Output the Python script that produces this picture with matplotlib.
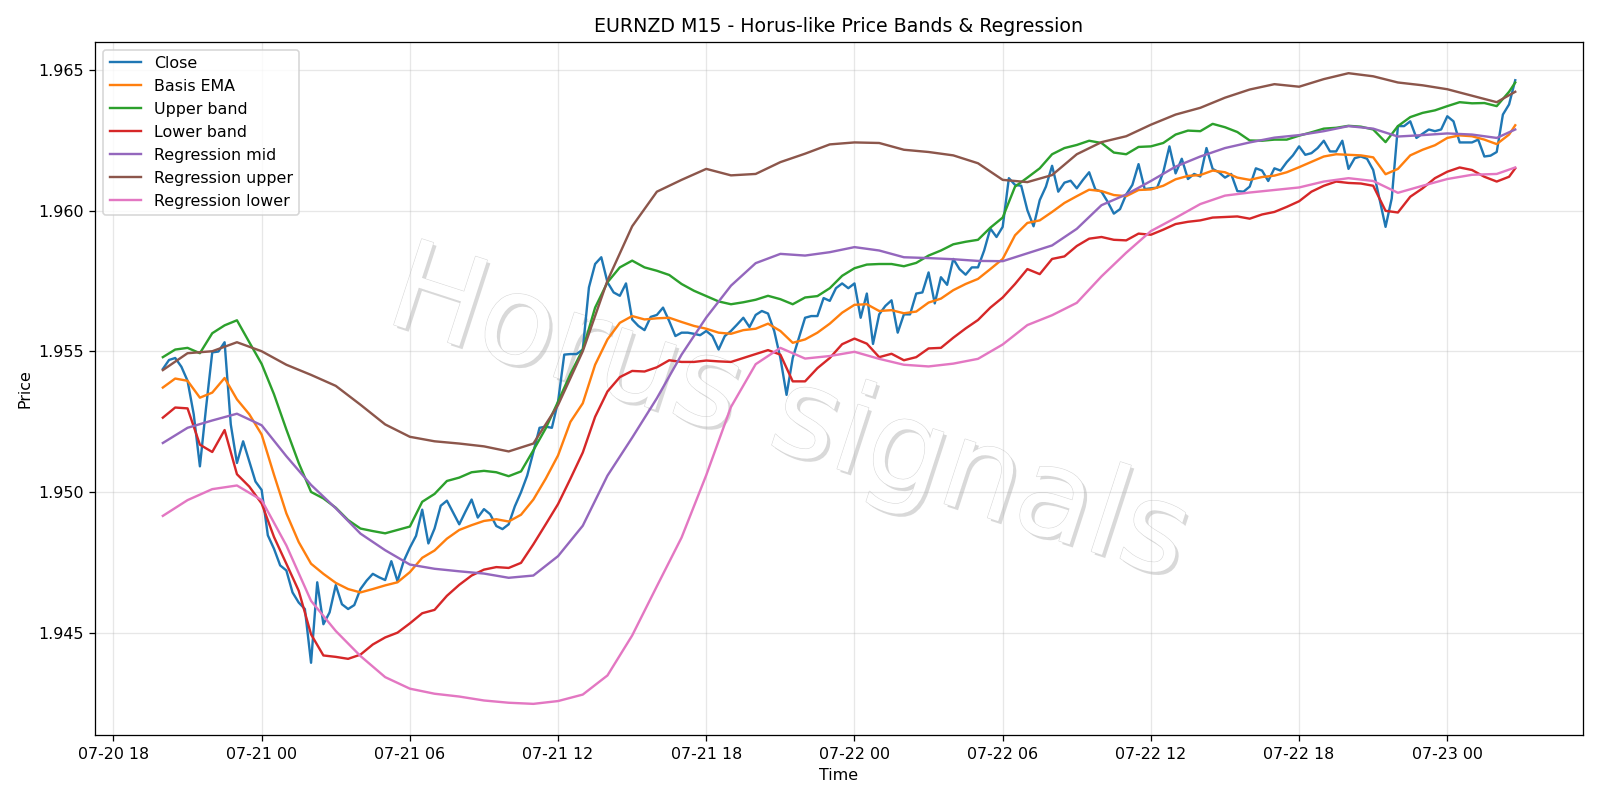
import matplotlib
matplotlib.use("Agg")
import matplotlib.pyplot as plt
import matplotlib.patheffects as pe
import pandas as pd

# M15 closes, 2025-07-20 20:00 -> 2025-07-23 02:45
close = [
    1.95437, 1.95469, 1.95476, 1.95445, 1.95395, 1.95276, 1.95091, 1.95300, 1.95496, 1.95499,
    1.95532, 1.95240, 1.95103, 1.95180, 1.95109, 1.95037, 1.95007, 1.94846, 1.94798, 1.94739,
    1.94721, 1.94643, 1.94607, 1.94584, 1.94393, 1.94679, 1.94530, 1.94572, 1.94669, 1.94601,
    1.94584, 1.94598, 1.94655, 1.94685, 1.94709, 1.94697, 1.94687, 1.94754, 1.94683, 1.94754,
    1.94802, 1.94844, 1.94937, 1.94817, 1.94870, 1.94951, 1.94969, 1.94927, 1.94885, 1.94930,
    1.94973, 1.94909, 1.94939, 1.94921, 1.94879, 1.94868, 1.94885, 1.94949, 1.94999, 1.95058,
    1.95142, 1.95228, 1.95232, 1.95228, 1.95321, 1.95488, 1.95490, 1.95490, 1.95506, 1.95727,
    1.95810, 1.95834, 1.95745, 1.95709, 1.95697, 1.95741, 1.95613, 1.95590, 1.95575, 1.95622,
    1.95629, 1.95655, 1.95607, 1.95554, 1.95566, 1.95566, 1.95562, 1.95557, 1.95572, 1.95554,
    1.95506, 1.95554, 1.95572, 1.95595, 1.95619, 1.95586, 1.95629, 1.95643, 1.95634, 1.95572,
    1.95476, 1.95345, 1.95476, 1.95548, 1.95619, 1.95625, 1.95625, 1.95689, 1.95679, 1.95724,
    1.95741, 1.95724, 1.95741, 1.95619, 1.95705, 1.95526, 1.95631, 1.95661, 1.95681, 1.95566,
    1.95631, 1.95631, 1.95705, 1.95709, 1.95780, 1.95670, 1.95763, 1.95736, 1.95828, 1.95792,
    1.95772, 1.95798, 1.95798, 1.95858, 1.95936, 1.95906, 1.95942, 1.96115, 1.96091, 1.96088,
    1.96001, 1.95944, 1.96037, 1.96085, 1.96159, 1.96067, 1.96099, 1.96106, 1.96079, 1.96109,
    1.96136, 1.96075, 1.96067, 1.96031, 1.95989, 1.96005, 1.96057, 1.96091, 1.96165, 1.96076,
    1.96079, 1.96081, 1.96136, 1.96228, 1.96132, 1.96184, 1.96112, 1.96130, 1.96121, 1.96222,
    1.96148, 1.96136, 1.96117, 1.96130, 1.96069, 1.96067, 1.96085, 1.96150, 1.96142, 1.96105,
    1.96150, 1.96142, 1.96172, 1.96196, 1.96228, 1.96198, 1.96204, 1.96222, 1.96248, 1.96210,
    1.96210, 1.96248, 1.96148, 1.96186, 1.96192, 1.96184, 1.96144, 1.96043, 1.95942, 1.96043,
    1.96300, 1.96300, 1.96317, 1.96258, 1.96273, 1.96288, 1.96282, 1.96288, 1.96335, 1.96317,
    1.96242, 1.96242, 1.96242, 1.96252, 1.96192, 1.96195, 1.96208, 1.96341, 1.96377, 1.96463,
]

# bands read every 30 min (plus the last bar)
basis_ema = [
    1.95371, 1.95403, 1.95395, 1.95335, 1.95353, 1.95405, 1.95329, 1.95276, 1.95204, 1.95061,
    1.94924, 1.94822, 1.94745, 1.94709, 1.94677, 1.94655, 1.94643, 1.94655, 1.94668, 1.94679,
    1.94715, 1.94766, 1.94792, 1.94834, 1.94865, 1.94882, 1.94897, 1.94903, 1.94895, 1.94919,
    1.94973, 1.95047, 1.95130, 1.95249, 1.95315, 1.95452, 1.95542, 1.95601, 1.95625, 1.95613,
    1.95617, 1.95619, 1.95604, 1.95590, 1.95580, 1.95566, 1.95562, 1.95575, 1.95580, 1.95598,
    1.95572, 1.95530, 1.95542, 1.95566, 1.95598, 1.95637, 1.95665, 1.95667, 1.95643, 1.95646,
    1.95635, 1.95641, 1.95673, 1.95687, 1.95717, 1.95739, 1.95757, 1.95792, 1.95828, 1.95912,
    1.95956, 1.95965, 1.95995, 1.96027, 1.96051, 1.96074, 1.96069, 1.96055, 1.96051, 1.96073,
    1.96075, 1.96088, 1.96111, 1.96123, 1.96126, 1.96142, 1.96136, 1.96117, 1.96109, 1.96119,
    1.96124, 1.96136, 1.96154, 1.96173, 1.96192, 1.96200, 1.96198, 1.96196, 1.96189, 1.96129,
    1.96148, 1.96196, 1.96216, 1.96232, 1.96258, 1.96267, 1.96264, 1.96252, 1.96236, 1.96270,
    1.96303,
]
upper_band = [
    1.95479, 1.95506, 1.95512, 1.95493, 1.95564, 1.95592, 1.95610, 1.95532, 1.95455, 1.95347,
    1.95222, 1.95103, 1.95000, 1.94977, 1.94944, 1.94900, 1.94870, 1.94861, 1.94853, 1.94865,
    1.94877, 1.94965, 1.94993, 1.95039, 1.95051, 1.95070, 1.95075, 1.95070, 1.95056, 1.95073,
    1.95148, 1.95226, 1.95321, 1.95419, 1.95506, 1.95655, 1.95745, 1.95798, 1.95822, 1.95798,
    1.95786, 1.95771, 1.95739, 1.95715, 1.95696, 1.95677, 1.95667, 1.95674, 1.95683, 1.95697,
    1.95685, 1.95667, 1.95691, 1.95696, 1.95724, 1.95768, 1.95795, 1.95808, 1.95810, 1.95810,
    1.95802, 1.95814, 1.95840, 1.95858, 1.95880, 1.95889, 1.95896, 1.95939, 1.95975, 1.96085,
    1.96117, 1.96150, 1.96200, 1.96222, 1.96233, 1.96248, 1.96240, 1.96206, 1.96200, 1.96226,
    1.96228, 1.96240, 1.96270, 1.96284, 1.96282, 1.96308, 1.96296, 1.96279, 1.96249, 1.96248,
    1.96252, 1.96252, 1.96266, 1.96278, 1.96291, 1.96294, 1.96301, 1.96298, 1.96288, 1.96243,
    1.96300, 1.96332, 1.96347, 1.96356, 1.96371, 1.96385, 1.96381, 1.96382, 1.96371, 1.96422,
    1.96455,
]
lower_band = [
    1.95264, 1.95300, 1.95297, 1.95168, 1.95142, 1.95220, 1.95063, 1.95019, 1.94959, 1.94840,
    1.94745, 1.94649, 1.94494, 1.94419, 1.94414, 1.94407, 1.94422, 1.94458, 1.94483, 1.94500,
    1.94533, 1.94569, 1.94581, 1.94631, 1.94670, 1.94703, 1.94724, 1.94733, 1.94730, 1.94748,
    1.94814, 1.94885, 1.94957, 1.95047, 1.95140, 1.95267, 1.95357, 1.95408, 1.95430, 1.95428,
    1.95443, 1.95468, 1.95462, 1.95462, 1.95467, 1.95464, 1.95462, 1.95476, 1.95490, 1.95504,
    1.95488, 1.95393, 1.95393, 1.95440, 1.95476, 1.95525, 1.95545, 1.95527, 1.95479, 1.95491,
    1.95468, 1.95479, 1.95510, 1.95512, 1.95548, 1.95581, 1.95611, 1.95655, 1.95691, 1.95739,
    1.95792, 1.95774, 1.95828, 1.95837, 1.95874, 1.95900, 1.95906, 1.95896, 1.95894, 1.95918,
    1.95914, 1.95932, 1.95952, 1.95960, 1.95965, 1.95975, 1.95977, 1.95979, 1.95971, 1.95986,
    1.95995, 1.96013, 1.96033, 1.96067, 1.96088, 1.96103, 1.96098, 1.96096, 1.96088, 1.95999,
    1.95993, 1.96049, 1.96079, 1.96115, 1.96138, 1.96153, 1.96144, 1.96120, 1.96103, 1.96120,
    1.96150,
]

# regression channel read every hour (plus the last bar)
reg_mid = [
    1.95174, 1.95228, 1.95254, 1.95278, 1.95237, 1.95127, 1.95025, 1.94942, 1.94852, 1.94793,
    1.94742, 1.94727, 1.94718, 1.94710, 1.94695, 1.94703, 1.94772, 1.94880, 1.95058, 1.95193,
    1.95333, 1.95488, 1.95620, 1.95733, 1.95813, 1.95846, 1.95840, 1.95852, 1.95870, 1.95858,
    1.95834, 1.95831, 1.95827, 1.95821, 1.95820, 1.95848, 1.95876, 1.95935, 1.96019, 1.96057,
    1.96105, 1.96156, 1.96192, 1.96222, 1.96242, 1.96259, 1.96268, 1.96282, 1.96300, 1.96291,
    1.96263, 1.96268, 1.96274, 1.96270, 1.96258, 1.96288,
]
reg_upper = [
    1.95433, 1.95493, 1.95500, 1.95532, 1.95500, 1.95452, 1.95416, 1.95377, 1.95310, 1.95240,
    1.95196, 1.95180, 1.95172, 1.95162, 1.95144, 1.95172, 1.95309, 1.95500, 1.95751, 1.95944,
    1.96067, 1.96109, 1.96148, 1.96125, 1.96130, 1.96172, 1.96202, 1.96235, 1.96242, 1.96240,
    1.96216, 1.96208, 1.96196, 1.96168, 1.96109, 1.96101, 1.96126, 1.96200, 1.96243, 1.96264,
    1.96305, 1.96341, 1.96365, 1.96401, 1.96430, 1.96449, 1.96440, 1.96467, 1.96488, 1.96477,
    1.96455, 1.96445, 1.96431, 1.96408, 1.96385, 1.96422,
]
reg_lower = [
    1.94915, 1.94971, 1.95010, 1.95023, 1.94971, 1.94810, 1.94613, 1.94506, 1.94417, 1.94342,
    1.94301, 1.94283, 1.94273, 1.94259, 1.94251, 1.94247, 1.94257, 1.94280, 1.94348, 1.94490,
    1.94665, 1.94838, 1.95060, 1.95302, 1.95454, 1.95512, 1.95474, 1.95483, 1.95498, 1.95473,
    1.95452, 1.95446, 1.95456, 1.95473, 1.95524, 1.95593, 1.95628, 1.95672, 1.95766, 1.95850,
    1.95927, 1.95974, 1.96023, 1.96053, 1.96064, 1.96073, 1.96082, 1.96103, 1.96115, 1.96105,
    1.96063, 1.96088, 1.96112, 1.96127, 1.96130, 1.96153,
]

times = pd.date_range("2025-07-20 20:00", periods=len(close), freq="15min")
t30 = times[::2].append(times[-1:])
t60 = times[::4].append(times[-1:])

fig, ax = plt.subplots(figsize=(14, 7), dpi=800 / 7)

ax.plot(times, close, label="Close")
ax.plot(t30, basis_ema, label="Basis EMA")
ax.plot(t30, upper_band, label="Upper band")
ax.plot(t30, lower_band, label="Lower band")
ax.plot(t60, reg_mid, label="Regression mid")
ax.plot(t60, reg_upper, label="Regression upper")
ax.plot(t60, reg_lower, label="Regression lower")

# watermark behind the lines, placed in figure coords
ax.text(0.493, 0.479, "Horus signals", transform=fig.transFigure, fontsize=78,
        color="white", ha="center", va="center", rotation=-18, zorder=1,
        path_effects=[pe.withSimplePatchShadow(offset=(2, -2), shadow_rgbFace="#b4b4b4", alpha=0.5),
                      pe.withStroke(linewidth=0.7, foreground="#d8d8d8")])

ax.set_title("EURNZD M15 - Horus-like Price Bands & Regression")
ax.set_xlabel("Time")
ax.set_ylabel("Price")
ax.grid(True, alpha=0.3)
ax.legend(loc="upper left")

plt.tight_layout()
plt.savefig("out.png", dpi=800 / 7)
